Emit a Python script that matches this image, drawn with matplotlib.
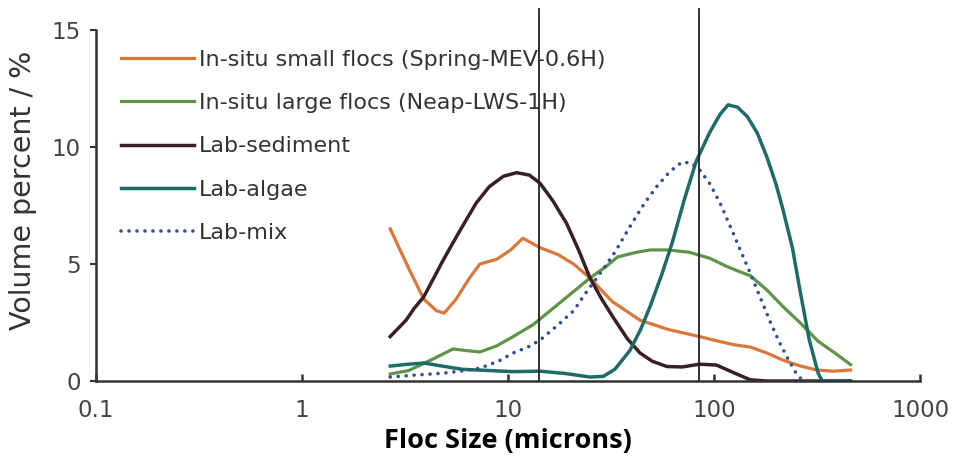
import matplotlib
matplotlib.use('Agg')
import matplotlib.pyplot as plt
from matplotlib.ticker import FixedLocator, FixedFormatter, NullLocator

plt.rcParams['font.family'] = ['DejaVu Sans']

# values (x in microns, y in volume %)
small_x = [2.68, 3.3, 3.9, 4.5, 4.9, 5.6, 6.5, 7.3, 8.8, 10.3, 11.8, 13.0, 14.3, 17.5, 20.8, 25, 32, 43.7, 60, 85, 105, 125, 150, 180, 215, 260, 315, 380, 460]
small_y = [6.5, 4.8, 3.5, 3.0, 2.9, 3.5, 4.4, 5.0, 5.2, 5.6, 6.1, 5.9, 5.7, 5.4, 5.0, 4.4, 3.4, 2.6, 2.2, 1.9, 1.7, 1.55, 1.45, 1.2, 0.9, 0.65, 0.47, 0.42, 0.47]

large_x = [2.68, 3.3, 3.9, 4.7, 5.4, 6.3, 7.3, 8.8, 10.6, 13.2, 16, 20, 25, 30, 34, 42, 49, 60, 76, 95, 115, 134, 150, 180, 215, 261, 320, 400, 460]
large_y = [0.3, 0.45, 0.75, 1.1, 1.37, 1.3, 1.24, 1.5, 1.9, 2.4, 3.0, 3.7, 4.4, 4.9, 5.3, 5.5, 5.6, 5.6, 5.5, 5.25, 4.9, 4.66, 4.5, 3.9, 3.2, 2.5, 1.7, 1.1, 0.7]

sed_x = [2.68, 3.2, 3.5, 3.9, 4.3, 4.8, 5.4, 6.0, 7.0, 8.1, 9.5, 11, 12.7, 14.3, 16.5, 19.2, 22, 25, 28.5, 32.5, 38, 43.7, 50, 59, 70, 85, 103, 125, 150, 180, 250, 350, 460]
sed_y = [1.9, 2.6, 3.1, 3.6, 4.3, 5.1, 5.9, 6.6, 7.6, 8.3, 8.75, 8.9, 8.8, 8.45, 7.7, 6.75, 5.6, 4.4, 3.5, 2.7, 1.8, 1.2, 0.85, 0.62, 0.6, 0.72, 0.68, 0.35, 0.05, 0.0, 0.0, 0.0, 0.0]

algae_x = [2.68, 3.3, 3.9, 4.7, 6.0, 8.0, 10.6, 14.3, 19, 25, 29, 33, 39, 44, 49, 56, 62.6, 72, 82, 95, 107, 117, 130, 145, 162, 180, 200, 215, 240, 261, 290, 320, 335, 380, 460]
algae_y = [0.64, 0.72, 0.77, 0.65, 0.5, 0.45, 0.4, 0.42, 0.32, 0.17, 0.2, 0.5, 1.3, 2.2, 3.2, 4.6, 5.9, 7.8, 9.4, 10.6, 11.4, 11.8, 11.7, 11.3, 10.6, 9.6, 8.4, 7.4, 5.7, 3.9, 1.75, 0.34, 0.0, 0.0, 0.0]

mix_x = [2.68, 3.5, 4.9, 6.2, 7.3, 9.0, 10.6, 12.5, 14.3, 17.5, 20.8, 24, 28, 33, 40, 46, 52.6, 61, 70, 78, 85.5, 96, 107, 120, 134, 150, 167, 188, 209, 230, 250, 270, 350, 460]
mix_y = [0.17, 0.25, 0.34, 0.45, 0.55, 0.85, 1.2, 1.45, 1.75, 2.4, 3.0, 3.8, 4.6, 5.5, 6.75, 7.6, 8.3, 8.95, 9.36, 9.3, 9.0, 8.4, 7.6, 6.6, 5.6, 4.6, 3.6, 2.5, 1.6, 0.9, 0.34, 0.0, 0.0, 0.0]

labels = ['In-situ small flocs (Spring-MEV-0.6H)', 'In-situ large flocs (Neap-LWS-1H)',
          'Lab-sediment', 'Lab-algae', 'Lab-mix']
colors = ['#DA773A', '#5E9447', '#3A2026', '#1E6B68', '#33508F']

cutoffs = [14.1, 84.5]
xticks = [0.1, 1, 10, 100, 1000]
xtick_labels = ['0.1', '1', '10', '100', '1000']
yticks = [0, 5, 10, 15]

fig = plt.figure(figsize=(9.61, 4.65), dpi=100)
ax = fig.add_axes([0.0999, 0.1806, 0.8575, 0.755])

ax.plot(small_x, small_y, color=colors[0], lw=2.3, label=labels[0])
ax.plot(large_x, large_y, color=colors[1], lw=2.3, label=labels[1])
ax.plot(sed_x, sed_y, color=colors[2], lw=2.5, label=labels[2])
ax.plot(algae_x, algae_y, color=colors[3], lw=2.5, label=labels[3])
ax.plot(mix_x, mix_y, color=colors[4], lw=2.6, ls=(0, (0.01, 2.2)),
        dash_capstyle='round', label=labels[4])

for c in cutoffs:
    ax.plot([c, c], [0, 15.9], color='#222222', lw=1.3, clip_on=False)

ax.set_xscale('log')
ax.set_xlim(0.1, 1000)
ax.set_ylim(0, 15)
ax.xaxis.set_major_locator(FixedLocator(xticks))
ax.xaxis.set_major_formatter(FixedFormatter(xtick_labels))
ax.xaxis.set_minor_locator(NullLocator())
ax.set_yticks(yticks)

for s in ['top', 'right']:
    ax.spines[s].set_visible(False)
for s in ['left', 'bottom']:
    ax.spines[s].set_linewidth(1.8)
    ax.spines[s].set_color('#333333')

ax.tick_params(axis='x', direction='in', length=5, width=1.8, color='#333333',
               labelsize=16.5, labelcolor='#444444', pad=13)
ax.tick_params(axis='y', direction='out', length=4, width=1.5, color='#333333',
               labelsize=16.5, labelcolor='#444444', pad=7)

ax.set_xlabel('Floc Size (microns)', fontsize=19.5, fontweight='bold',
              family=['Open Sans', 'DejaVu Sans'], labelpad=4)
ax.set_ylabel('Volume percent / %', fontsize=20.5, color='#333333')
ax.yaxis.set_label_coords(-0.071, 0.544)

leg = ax.legend(loc='upper left', bbox_to_anchor=(0.019, 0.969), frameon=False,
                fontsize=16, handlelength=3.3, handletextpad=0.22, labelspacing=1.05,
                borderaxespad=0)
for t in leg.get_texts():
    t.set_color('#333333')

fig.savefig('out.png', dpi=100)
